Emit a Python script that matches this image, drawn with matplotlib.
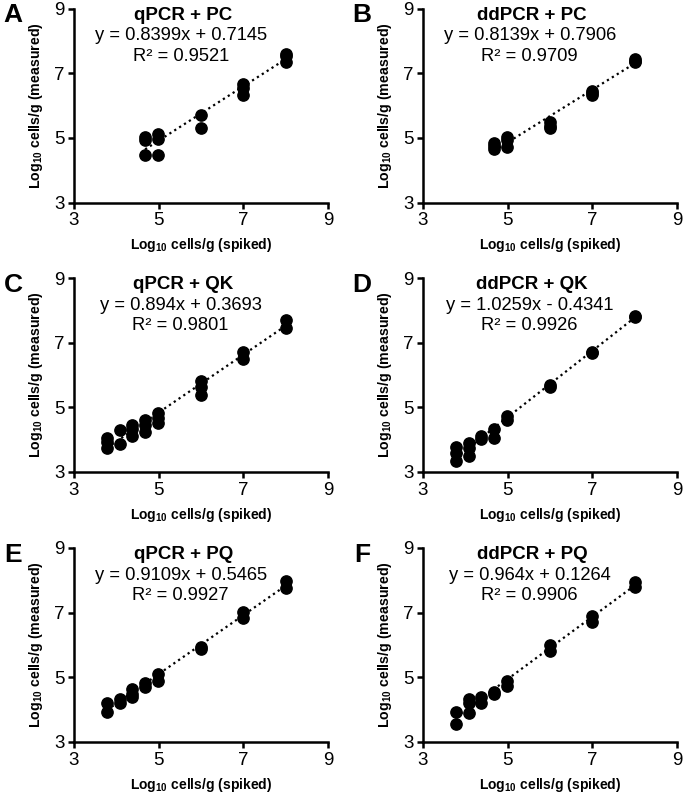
import numpy as np
import matplotlib.pyplot as plt

plt.rcParams['font.family'] = ['Liberation Sans', 'DejaVu Sans']
plt.rcParams['mathtext.fontset'] = 'custom'
plt.rcParams['mathtext.rm'] = 'Liberation Sans'
plt.rcParams['mathtext.bf'] = 'Liberation Sans:bold'

# spiked levels (log10 cells/g)
x_pc = [4.68, 4.98, 6.0, 7.0, 8.0]
x_all = [3.78, 4.08, 4.38, 4.68, 4.98, 6.0, 7.0, 8.0]

a_y = [[5.02, 4.93, 4.46], [5.12, 4.96, 4.46], [5.71, 5.29], [6.67, 6.55, 6.33], [7.6, 7.52, 7.36]]
b_y = [[4.83, 4.75, 4.66], [5.02, 4.92, 4.71], [5.5, 5.38, 5.3], [6.44, 6.38, 6.31], [7.44, 7.38, 7.34]]
c_y = [[4.06, 3.93, 3.75], [4.30, 3.88], [4.46, 4.32, 4.11], [4.61, 4.45, 4.24],
       [4.84, 4.66, 4.53], [5.8, 5.63, 5.39], [6.70, 6.48], [7.71, 7.45]]
d_y = [[3.78, 3.59, 3.33], [3.91, 3.73, 3.49], [4.11, 4.01], [4.34, 4.06],
       [4.72, 4.60], [5.70, 5.62], [6.72, 6.68], [7.84, 7.78]]
e_y = [[4.2, 3.93], [4.32, 4.2], [4.64, 4.5, 4.38], [4.84, 4.69],
       [5.10, 4.9], [5.93, 5.88], [7.03, 6.84], [7.97, 7.76]]
f_y = [[3.93, 3.57], [4.32, 4.22, 3.91], [4.38, 4.2], [4.55, 4.48],
       [4.9, 4.74], [5.99, 5.8], [6.91, 6.72], [7.95, 7.78]]

titles = ['qPCR + PC', 'ddPCR + PC', 'qPCR + QK', 'ddPCR + QK', 'qPCR + PQ', 'ddPCR + PQ']
letters = ['A', 'B', 'C', 'D', 'E', 'F']
slopes = [0.8399, 0.8139, 0.894, 1.0259, 0.9109, 0.964]
intercepts = [0.7145, 0.7906, 0.3693, -0.4341, 0.5465, 0.1264]
equations = ['y = 0.8399x + 0.7145', 'y = 0.8139x + 0.7906', 'y = 0.894x + 0.3693',
             'y = 1.0259x - 0.4341', 'y = 0.9109x + 0.5465', 'y = 0.964x + 0.1264']
r2 = ['R² = 0.9521', 'R² = 0.9709', 'R² = 0.9801', 'R² = 0.9926', 'R² = 0.9927', 'R² = 0.9906']

panels = [(x_pc, a_y), (x_pc, b_y), (x_all, c_y), (x_all, d_y), (x_all, e_y), (x_all, f_y)]

fig = plt.figure(figsize=(6.85, 7.94), dpi=100)
W, H = 685, 794
lefts = [74, 423]
tops = [8.5, 278, 548]
aw, ah = 254, 194

for i in range(6):
    row, col = i // 2, i % 2
    l = lefts[col]
    t = tops[row]
    ax = fig.add_axes([l / W, (H - t - ah) / H, aw / W, ah / H])
    xs, ys = panels[i]
    px, py = [], []
    for xv, yl in zip(xs, ys):
        for yv in yl:
            px.append(xv)
            py.append(yv)
    xl = np.array([min(px), max(px)])
    ax.plot(xl, slopes[i] * xl + intercepts[i], color='black', linestyle=(0, (1, 1.6)), lw=1.6, zorder=2)
    ax.scatter(px, py, s=66, color='black', zorder=3)

    ax.set_xlim(3, 9)
    ax.set_ylim(3, 9)
    ax.set_xticks([3, 5, 7, 9])
    ax.set_yticks([3, 5, 7, 9])
    for s in ['top', 'right']:
        ax.spines[s].set_visible(False)
    for s in ['left', 'bottom']:
        ax.spines[s].set_linewidth(1.8)
    ax.tick_params(direction='out', length=4, width=1.8, labelsize=13.5, pad=3)
    ax.set_xlabel(r'Log$_{\mathbf{10}}$ cells/g (spiked)', fontsize=10, fontweight='bold', labelpad=5)
    ax.set_ylabel(r'Log$_{\mathbf{10}}$ cells/g (measured)', fontsize=10.2, fontweight='bold', labelpad=6)

    ax.text(0.43, 0.965, titles[i], transform=ax.transAxes, ha='center', va='center',
            fontsize=13.5, fontweight='bold')
    ax.text(0.42, 0.86, equations[i], transform=ax.transAxes, ha='center', va='center', fontsize=13.2)
    ax.text(0.42, 0.755, r2[i], transform=ax.transAxes, ha='center', va='center', fontsize=13.2)

    fig.text((l - 61) / W, 1 - (t + 7) / H, letters[i], fontsize=19, fontweight='bold',
             ha='center', va='center')

fig.savefig('out.png', dpi=100)
